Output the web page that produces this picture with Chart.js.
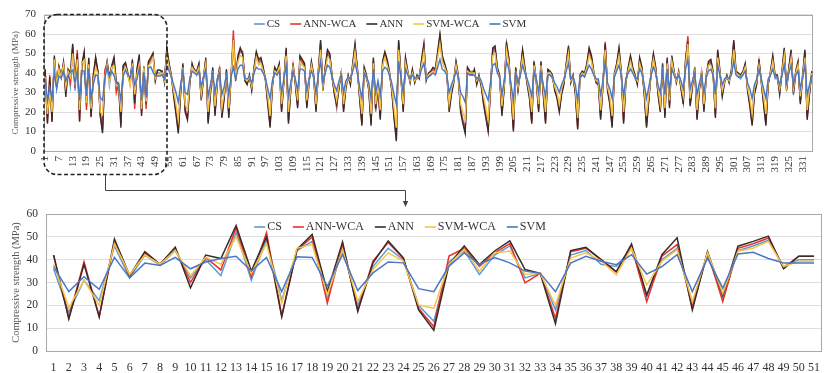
<!DOCTYPE html>
<html>
<head>
<meta charset="utf-8">
<script src="https://cdn.jsdelivr.net/npm/chart.js@4.4.1/dist/chart.umd.min.js"></script>
<style>
  html, body { margin: 0; padding: 0; background: #fff; }
  #wrap { position: relative; width: 830px; height: 373px; overflow: hidden; }
  #marks { position: absolute; left: 0; top: 0; pointer-events: none; }
</style>
</head>
<body>
<div id="wrap">
  <canvas id="topChart" width="830" height="190" style="position:absolute;left:0;top:0;"></canvas>
  <canvas id="bottomChart" width="830" height="183" style="position:absolute;left:0;top:190px;"></canvas>
  <svg id="marks" width="830" height="373">
    <rect x="44" y="14.5" width="123" height="160" rx="13" ry="13" fill="none" stroke="#222" stroke-width="1.6" stroke-dasharray="4 2.5"/>
    <path d="M105.5 174.5 V190.5 H405.5 V202" fill="none" stroke="#444" stroke-width="1"/>
    <polygon points="405.5,207 402.8,201 408.2,201" fill="#444"/>
  </svg>
</div>
<script>
// series names and colours
const seriesNames = ['CS', 'ANN-WCA', 'ANN', 'SVM-WCA', 'SVM'];
const seriesColors = ['#5B9BD5', '#E8312B', '#3B2B28', '#F9C446', '#4A76C4'];

// first 51 samples (zoomed panel)
const zoomCS =     [36,17,31,22,46,32,42,37.5,44,32,40,33,52,31,49,22,44,48,23,45,20,37,45,40,20,13,39,44,33.5,42,46,32,34,18,42,44,38,37,45,24,40,45,21,42,23,44,46,48.5,37,40,40];
const zoomAnnWca = [42,14.5,39,15,48,33,43,38,45,30,41,35.5,54,32.5,51.8,15.5,44,50,21,47,18,39.4,47.5,40.5,18.7,10.6,41.6,45,37,43,47,29.8,34,14.3,43.5,45,40,34.5,46,21.6,41.5,46.6,19,43.4,21.6,45,47,49.5,36.5,41.5,41.5];
const zoomAnn =    [42,14,38,15,49,33,43.5,38,45.5,27.7,42,40.5,55,35,50,15,44.5,51,26,47.8,17.3,38.6,48.2,40.8,18,9.1,37.9,46,37.9,43.8,48.2,35.7,34,12,44,45.4,40,34.8,46.9,24.5,42.2,49.6,18,43.4,24.5,45.9,48,50.3,36,41.5,41.5];
const zoomSvmWca = [38,19,31,20,47,33.5,42,38,44,33,41,38,50,34,47,21,45,46.7,24.6,44.5,21.7,35.7,43,39.4,20.2,18.7,38,44.5,35,43,43.8,33.5,34,20,40.7,43,39.5,33.4,45,29,39.3,44.4,21.6,43,25.3,43.7,45,48,37,39.3,39.3];
const zoomSvm =    [37,26,32.5,27,41,32,38.5,37.5,41,36,39,40.5,41.5,35,41,26,41.3,41,28.3,42.3,26.5,34.2,39,38.6,27.3,26,37.2,43,38,40.9,38.6,35,34,26,38.5,41.5,39.3,37.8,42.2,33.7,37,42.2,26,40.7,27.5,42.5,43.2,40.5,38.5,38.5,38.5];

// samples 52..335 (full panel only)
const restCS = [
  39,37,51,43,38,30,21,12,31,43, 22,18,36,43,42,39,43,28,38,46,
  16,31,41,20,37,41,19,29,40,19, 38,58,38,47,51,50,38,35,37,33,
  41,49,45,46,41,38,26,14,35,41, 39,43,22,37,51,16,33,43,36,24,
  47,45,43,24,37,44,37,22,39,55, 33,41,50,48,37,31,22,34,39,22,
  34,37,36,43,53,41,29,15,41,37, 33,15,46,20,34,18,44,49,45,39,
  33,19,7,55,37,22,46,39,37,40,  37,37,39,45,53,38,38,39,41,40,
  49,58,47,43,39,22,31,37,44,37, 22,16,11,41,39,41,40,36,37,35,
  26,19,12,33,51,52,41,37,20,34, 55,46,31,12,41,33,39,50,41,36,
  29,16,44,37,22,44,31,16,40,39, 37,33,29,22,31,36,43,52,37,37,
  31,13,37,39,38,43,51,47,39,37, 36,18,35,55,33,26,14,38,43,51,
  39,16,37,41,47,41,37,36,46,41, 31,14,28,39,48,41,31,22,43,19,
  46,24,47,39,37,39,34,26,45,58, 25,35,41,18,33,39,22,37,44,45,
  39,19,50,39,30,37,37,37,40,55, 39,38,37,39,43,33,25,15,31,36,
  45,37,26,15,36,39,47,37,37,31, 39,51,33,41,50,31,39,44,26,37,
  50,18,31,39
];
const restAnnWca = [
  40,36,52,44,38,29,20,10,30,44, 21,17,35,44,42,40,44,27,38,47,
  15,30,42,19,36,42,18,28,41,18, 38,62,37,48,52,51,37,35,38,32,
  42,50,46,47,42,37,25,13,34,42, 40,44,21,36,52,15,32,44,35,23,
  48,46,44,23,36,45,38,21,40,56, 32,42,51,49,38,30,23,33,40,21,
  33,38,35,44,54,42,28,14,42,38, 32,14,47,21,33,17,45,50,46,40,
  32,18,6,56,38,21,47,40,36,41,  36,38,38,46,54,37,39,40,42,41,
  50,59,48,44,40,21,30,36,45,38, 21,15,10,42,40,40,41,35,38,34,
  25,18,11,32,52,53,42,38,19,33, 56,47,30,11,42,32,40,51,42,35,
  28,15,45,36,21,45,30,15,41,40, 38,32,28,21,30,35,44,53,36,38,
  30,12,38,40,39,44,52,48,40,36, 35,17,34,56,32,25,13,39,44,52,
  40,15,36,42,48,42,38,35,47,42, 30,13,27,40,49,42,30,21,44,18,
  47,23,48,40,36,40,33,25,46,59, 24,34,42,17,32,40,21,38,45,46,
  40,18,51,40,29,36,38,36,41,56, 40,39,38,40,44,32,24,14,30,35,
  46,36,25,14,35,40,48,38,38,30, 40,52,32,42,51,30,40,45,25,38,
  51,17,30,40
];
const restAnn = [
  41,35,53,45,39,28,19,9,29,45,  20,16,34,45,41,41,45,26,37,48,
  14,29,43,18,35,43,17,27,42,17, 39,57,36,49,53,50,36,34,39,31,
  43,51,47,48,43,36,24,12,33,43, 41,45,20,35,53,14,31,45,34,22,
  49,47,45,22,35,46,39,20,41,57, 31,43,52,50,39,29,24,32,41,20,
  32,39,34,45,55,43,27,13,43,39, 31,13,48,22,32,16,46,51,47,41,
  31,17,5,57,39,20,48,41,35,42,  35,39,37,47,55,36,40,41,43,42,
  51,60,49,45,41,20,29,35,46,39, 20,14,9,43,41,39,42,34,39,33,
  24,17,10,31,53,54,43,39,18,32, 55,48,29,10,43,31,41,52,43,34,
  27,14,46,35,20,46,29,14,42,41, 39,31,27,20,29,34,45,54,35,39,
  29,11,39,41,40,45,53,49,41,35, 34,16,33,55,31,24,12,40,45,53,
  41,14,35,43,49,43,39,34,48,43, 29,12,26,41,50,43,29,20,45,17,
  48,22,49,41,35,41,32,24,47,56, 23,33,43,16,31,41,20,39,46,47,
  41,17,52,41,28,35,39,35,42,57, 41,40,39,41,45,31,23,13,29,34,
  47,35,24,13,34,41,49,39,39,29, 41,53,31,43,52,29,41,46,24,39,
  52,16,29,41
];
const restSvmWca = [
  40,36,49,43,38,31,24,16,32,43, 24,21,36,43,41,40,43,29,38,45,
  20,32,41,23,36,41,22,30,40,22, 38,57,37,46,49,48,37,36,38,33,
  41,48,44,45,41,37,28,18,35,41, 40,43,24,36,49,20,33,43,36,26,
  46,44,43,26,36,44,38,24,40,52, 33,41,48,47,38,32,26,34,40,24,
  34,38,36,43,51,41,30,19,41,38, 33,19,45,24,34,21,44,48,44,40,
  33,22,12,52,38,24,45,40,36,40, 36,38,38,44,51,37,39,40,41,40,
  48,55,46,43,40,24,32,36,44,38, 24,20,16,41,40,40,40,36,38,35,
  28,22,16,33,49,50,41,38,23,34, 52,45,32,16,41,33,40,48,41,36,
  30,20,44,36,24,44,32,20,40,40, 38,33,30,24,32,36,43,50,36,38,
  32,17,38,40,39,43,49,46,40,36, 36,21,35,52,33,28,18,39,43,49,
  40,20,36,41,46,41,38,36,45,41, 32,18,29,40,47,41,32,24,43,22,
  45,26,46,40,36,40,34,28,44,55, 27,35,41,21,33,40,24,38,44,44,
  40,22,48,40,31,36,38,36,40,52, 40,39,38,40,43,33,27,19,32,36,
  44,36,28,19,36,40,46,38,38,32, 40,49,33,41,48,32,40,44,28,38,
  48,21,32,40
];
const restSvm = [
  39,37,44,41,38,34,30,25,34,41, 30,29,37,41,40,39,41,33,38,42,
  28,34,40,30,37,40,29,33,39,29, 38,43,37,42,44,44,37,37,38,35,
  40,43,42,42,40,37,32,27,36,40, 39,41,30,37,44,28,35,41,37,31,
  42,42,41,31,37,41,38,30,39,46, 35,40,44,43,38,34,31,36,39,30,
  36,38,37,41,45,40,33,27,40,38, 35,27,42,30,36,29,41,43,42,39,
  35,29,24,46,38,30,42,39,37,39, 37,38,38,42,45,37,38,39,40,39,
  43,47,42,41,39,30,34,37,41,38, 30,28,25,40,39,39,39,37,38,36,
  32,29,26,35,44,45,40,38,29,36, 46,42,34,26,40,35,39,44,40,37,
  33,28,41,37,30,41,34,28,39,39, 38,35,33,30,34,37,41,45,37,38,
  34,26,38,39,38,41,44,42,39,37, 37,29,36,46,35,32,27,38,41,44,
  39,28,37,40,42,40,38,37,42,40, 34,27,33,39,43,40,34,30,41,29,
  42,31,42,39,37,39,36,32,42,47, 32,36,40,29,35,39,30,38,41,42,
  39,29,44,39,34,37,38,37,39,46, 39,38,38,39,41,35,32,27,34,37,
  42,37,32,27,37,39,42,38,38,34, 39,44,35,40,44,34,39,41,32,38,
  44,29,34,39
];

// axis settings
const topYMax = 70;
const bottomYMax = 60;
const yStep = 10;
const topTickEvery = 6;

const fullSeries = [
  zoomCS.concat(restCS),
  zoomAnnWca.concat(restAnnWca),
  zoomAnn.concat(restAnn),
  zoomSvmWca.concat(restSvmWca),
  zoomSvm.concat(restSvm)
];
const zoomSeries = [zoomCS, zoomAnnWca, zoomAnn, zoomSvmWca, zoomSvm];

const topLabels = fullSeries[0].map((v, i) => String(i + 1));
const bottomLabels = zoomCS.map((v, i) => String(i + 1));

const serif = "'Liberation Serif', 'Times New Roman', serif";

// legend drawn as short line + label, placed over the plot like the original
const lineLegend = {
  id: 'lineLegend',
  afterDraw(chart, args, opts) {
    const ctx = chart.ctx;
    ctx.save();
    ctx.font = opts.font;
    ctx.textBaseline = 'middle';
    const sets = chart.data.datasets;
    const widths = sets.map(d => ctx.measureText(d.label).width);
    let total = opts.itemGap * (sets.length - 1);
    widths.forEach(w => { total += opts.swatch + opts.textGap + w; });
    let x = opts.cx - total / 2;
    sets.forEach((d, i) => {
      ctx.strokeStyle = d.borderColor;
      ctx.lineWidth = 1.6;
      ctx.beginPath();
      ctx.moveTo(x, opts.y);
      ctx.lineTo(x + opts.swatch, opts.y);
      ctx.stroke();
      x += opts.swatch + opts.textGap;
      ctx.fillStyle = '#333';
      ctx.fillText(d.label, x, opts.y);
      x += widths[i] + opts.itemGap;
    });
    ctx.restore();
  }
};

// plot area frame
const plotFrame = {
  id: 'plotFrame',
  beforeDatasetsDraw(chart) {
    const a = chart.chartArea, ctx = chart.ctx;
    ctx.save();
    ctx.strokeStyle = '#A8A8A8';
    ctx.lineWidth = 1;
    ctx.strokeRect(Math.round(a.left) + 0.5, Math.round(a.top) + 0.5,
      Math.round(a.right - a.left) - 1, Math.round(a.bottom - a.top));
    ctx.restore();
  }
};

function makeSets(arrays, width) {
  return arrays.map((arr, i) => ({
    label: seriesNames[i],
    data: arr,
    borderColor: seriesColors[i],
    backgroundColor: seriesColors[i],
    borderWidth: width,
    pointRadius: 0,
    tension: 0,
    fill: false,
    order: seriesNames.length - i
  }));
}

function yAxis(max, tickSize, titleSize, width, titlePad) {
  return {
    min: 0,
    max: max,
    ticks: { stepSize: yStep, font: { family: serif, size: tickSize }, color: '#333', padding: 8 },
    grid: { color: '#DEDEDE', drawTicks: false },
    border: { display: false },
    title: {
      display: true,
      text: 'Compressive strength (MPa)',
      font: { family: serif, size: titleSize },
      color: '#555',
      padding: { top: titlePad, bottom: 0 }
    },
    afterFit(s) { s.width = width; }
  };
}

// full series chart
new Chart(document.getElementById('topChart').getContext('2d'), {
  type: 'line',
  data: { labels: topLabels, datasets: makeSets(fullSeries, 1.4) },
  options: {
    responsive: false,
    animation: false,
    layout: { padding: { top: 13, right: 2, left: 0, bottom: 0 } },
    plugins: {
      legend: { display: false },
      tooltip: { enabled: false },
      lineLegend: { cx: 390, y: 24, font: '11px ' + serif, swatch: 11, textGap: 2, itemGap: 10 }
    },
    scales: {
      x: {
        offset: true,
        ticks: {
          autoSkip: false,
          maxRotation: 90,
          minRotation: 90,
          padding: 5,
          font: { family: serif, size: 11 },
          color: '#333',
          callback: (v, i) => (i % topTickEvery === 0 ? topLabels[i] : '')
        },
        grid: { display: false, drawTicks: false },
        border: { display: false },
        afterFit(s) { s.height = 39; }
      },
      y: yAxis(topYMax, 11, 9, 44, 10)
    }
  },
  plugins: [plotFrame, lineLegend]
});

// zoomed chart of the first 51 samples
new Chart(document.getElementById('bottomChart').getContext('2d'), {
  type: 'line',
  data: { labels: bottomLabels, datasets: makeSets(zoomSeries, 1.5) },
  options: {
    responsive: false,
    animation: false,
    layout: { padding: { top: 24, right: 0, left: 0, bottom: 0 } },
    plugins: {
      legend: { display: false },
      tooltip: { enabled: false },
      lineLegend: { cx: 400, y: 37, font: '12px ' + serif, swatch: 11, textGap: 2, itemGap: 11 }
    },
    scales: {
      x: {
        offset: true,
        ticks: {
          autoSkip: false,
          maxRotation: 0,
          minRotation: 0,
          padding: 10,
          font: { family: serif, size: 12 },
          color: '#333'
        },
        grid: { display: false, drawTicks: false },
        border: { display: false },
        afterFit(s) { s.height = 22; }
      },
      y: yAxis(bottomYMax, 11.5, 10.5, 46, 10)
    }
  },
  plugins: [plotFrame, lineLegend]
});
</script>
</body>
</html>
